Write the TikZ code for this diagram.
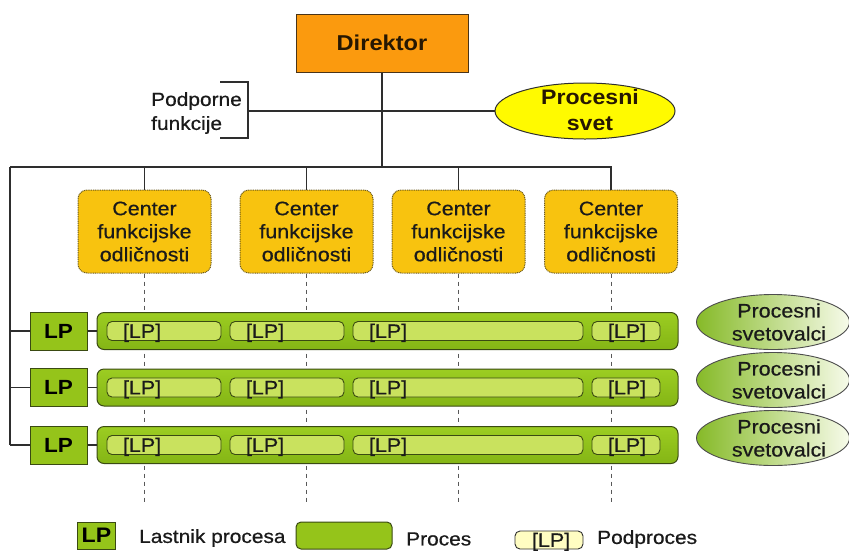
\documentclass[tikz,border=0pt]{standalone}
\usepackage{fontspec}
\setmainfont{Liberation Sans}[FakeStretch=1.1, UprightFeatures={FakeBold=0.6}]
\usetikzlibrary{shapes.geometric}

\definecolor{linec}{HTML}{2E2E2E}
\definecolor{txt}{HTML}{1A1A1A}
\definecolor{dirfill}{HTML}{FB9A0E}
\definecolor{dirdraw}{HTML}{4A3418}
\definecolor{svetfill}{HTML}{FFFA00}
\definecolor{cfofill}{HTML}{F8C30F}
\definecolor{cfodraw}{HTML}{6B5A1E}
\definecolor{lpfill}{HTML}{95C41A}
\definecolor{greendraw}{HTML}{3A4A12}
\definecolor{bartop}{HTML}{9CCD22}
\definecolor{barbot}{HTML}{84B515}
\definecolor{subfill}{HTML}{C9E25E}
\definecolor{ovaldark}{HTML}{86BA28}
\definecolor{ovallight}{HTML}{F7FBEA}
\definecolor{legsubfill}{HTML}{FFFDC2}

\begin{document}
\begin{tikzpicture}[x=1pt,y=-1pt,
  line/.style={draw=linec, line width=1.3pt},
  dashline/.style={draw=linec!80, line width=0.8pt, dash pattern=on 4pt off 4pt},
  lbl/.style={inner sep=0pt, text=txt, font=\fontsize{19}{24}\selectfont},
  dirbox/.style={draw=dirdraw, line width=1pt, fill=dirfill, minimum width=172pt,
    minimum height=58pt, inner sep=0pt, text=black!85!dirfill,
    font=\fontsize{21.5}{25}\selectfont\bfseries},
  svetshape/.style={ellipse, draw=linec, line width=1pt, fill=svetfill,
    minimum width=180pt, minimum height=56pt, inner sep=0pt},
  svetlbl/.style={inner sep=0pt, align=center, text=black!85!dirfill,
    font=\fontsize{21}{26}\selectfont\bfseries},
  cfobox/.style={draw=cfodraw, line width=1pt, dash pattern=on 1pt off 0.8pt,
    fill=cfofill, rounded corners=9pt, minimum width=133pt, minimum height=83pt,
    inner sep=0pt, align=center, text=txt, font=\fontsize{19.5}{23}\selectfont},
  lpbox/.style={draw=greendraw, line width=1pt, fill=lpfill, minimum width=57pt,
    minimum height=38pt, inner sep=0pt, text=black,
    font=\fontsize{20.5}{24}\selectfont\bfseries},
  procbar/.style={draw=greendraw, line width=1pt, top color=bartop, bottom color=barbot,
    rounded corners=7pt, minimum width=581pt, minimum height=37pt, inner sep=0pt},
  subbox/.style={draw=greendraw, line width=0.9pt, fill=subfill, rounded corners=5pt,
    minimum height=19pt, inner xsep=16pt, inner ysep=0pt, text height=13.8pt,
    text depth=0pt, align=left, text=txt, font=\fontsize{19.5}{22}\selectfont},
  ovalshape/.style={ellipse, draw=linec!85, line width=0.9pt, left color=ovaldark,
    right color=ovallight, minimum width=153pt, minimum height=55pt, inner sep=0pt},
  ovallbl/.style={inner sep=0pt, align=center, text=txt, font=\fontsize{19.5}{23}\selectfont},
]
\useasboundingbox (0,0) rectangle (849,550);

% --- top of the organisation ---
\node[dirbox] (dir) at (382,43) {Direktor};
\node[svetshape] (svet) at (585,111) {};
\node[svetlbl] (svett) at (590,110) {Procesni\\svet};
\node[lbl, anchor=west, align=left] (podp) at (151,113) {Podporne\\funkcije};

% bracket around the support functions
\draw[line] (220,82) -- (248,82) -- (248,138) -- (220,138);
\coordinate (brk) at (248,111);
\draw[line] (brk) -- (svet.west);

% --- centres of functional excellence ---
\node[cfobox] (c1) at (144.5,231.5) {Center\\funkcijske\\odličnosti};
\node[cfobox] (c2) at (306.5,231.5) {Center\\funkcijske\\odličnosti};
\node[cfobox] (c3) at (458.5,231.5) {Center\\funkcijske\\odličnosti};
\node[cfobox] (c4) at (611,231.5) {Center\\funkcijske\\odličnosti};

\coordinate (hub) at (382,167);
\coordinate (hl) at (10,167);
\coordinate (dend) at (0,503);
\draw[line] (dir.south) -- (hub);
\draw[line] (hl) -- (c4.north |- hl) -- (c4.north);
\foreach \c in {c1,c2,c3}
  \draw[line] (\c.north |- hl) -- (\c.north);

% dashed guides running down behind the processes
\foreach \c in {c1,c2,c3,c4}
  \draw[dashline] (\c.south) -- (\c.south |- dend);

% --- process rows ---
\foreach \r/\y in {1/331,2/387.5,3/445}{
  \node[lpbox] (lp\r) at (58.5,\y) {LP};
  \node[procbar] (bar\r) at (387.5,\y) {};
  \node[subbox, text width=82pt] (s\r a) at (164,\y) {[LP]};
  \node[subbox, text width=82pt] (s\r b) at (287,\y) {[LP]};
  \node[subbox, text width=198pt] (s\r c) at (468,\y) {[LP]};
  \node[subbox, text width=36pt] (s\r d) at (626,\y) {[LP]};
  \draw[line] (lp\r.east) -- (bar\r.west);
  \draw[line] (hl |- lp\r.west) -- (lp\r.west);
}
\draw[line] (hl) -- (hl |- lp3.west);

% process advisors
\foreach \r/\y in {1/322,2/380,3/438}{
  \node[ovalshape] (ov\r) at (773,\y) {};
  \node[ovallbl] (ovt\r) at (779,\y) {Procesni\\svetovalci};
}

% --- legend ---
\node[lpbox, minimum width=38pt, minimum height=27pt,
  font=\fontsize{21}{24}\selectfont\bfseries] (klp) at (96.5,535.5) {LP};
\node[lbl, anchor=west] (klpt) at (139,538) {Lastnik procesa};
\node[draw=greendraw, line width=1pt, fill=lpfill, rounded corners=5pt,
  minimum width=96pt, minimum height=27pt] (kpr) at (344,535.5) {};
\node[lbl, anchor=west] (kprt) at (406,539) {Proces};
\node[subbox, fill=legsubfill, draw=linec, text width=34pt, inner xsep=17pt,
  minimum height=18pt] (ksub) at (549,540) {[LP]};
\node[lbl, anchor=west] (ksubt) at (597,539) {Podproces};
\end{tikzpicture}
\end{document}
